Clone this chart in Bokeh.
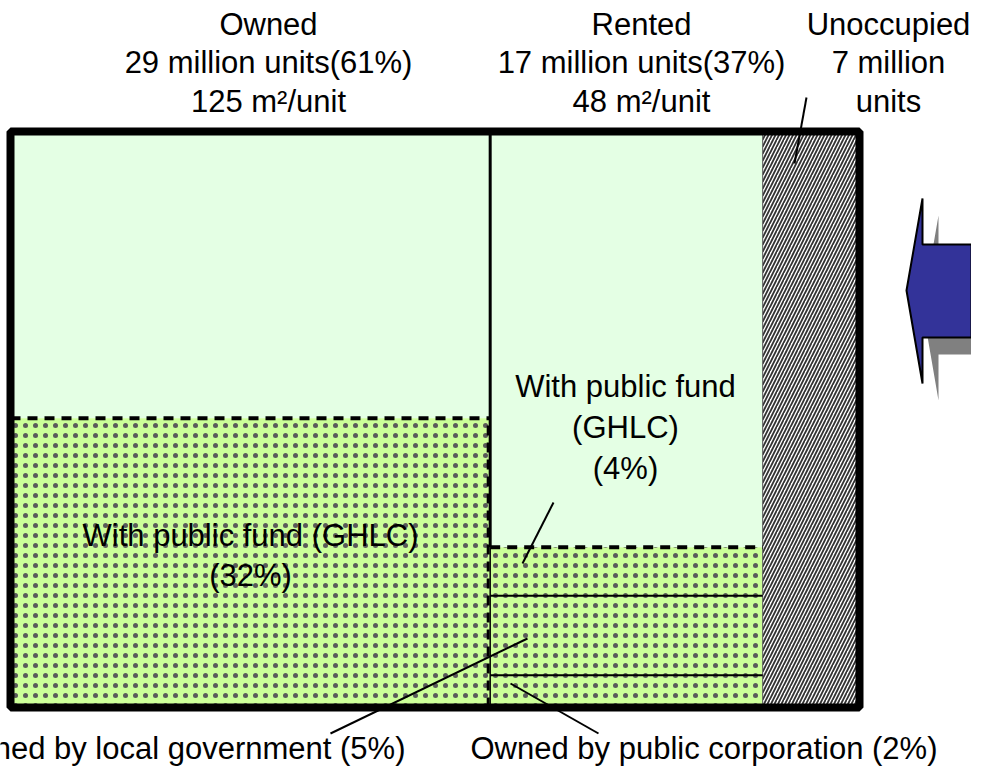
from bokeh.plotting import figure
from bokeh.models import Range1d
from bokeh.core.properties import value
from bokeh.embed import file_html
from bokeh.resources import INLINE

# ---------------- data ----------------
tenure = ["Owned", "Rented", "Unoccupied"]
units_million = [29, 17, 7]
unit_share_pct = [61, 37]
floor_area_m2 = [125, 48]
column_width_pct = [56.5, 32.1, 11.4]        # drawn column widths, % of frame width
owned_fund_label = "With public fund (GHLC)"
owned_fund_pct = 32
owned_fund_height = 50.2                      # % of column height
rented_parts = ["Owned by public corporation", "Owned by local government", "With public fund (GHLC)"]
rented_parts_pct = [2, 5, 4]
rented_parts_height = [5.6, 13.8, 8.4]        # % of column height, bottom to top

# ---------------- layout (canvas pixels) ----------------
W, H = 971, 768
FL, FR, FT, FB = 10, 859, 131, 707
SX = (FR - FL) / 100.0
SY = (FB - FT) / 100.0


def X(px):
    return (px - FL) / SX


def Y(py):
    return (FB - py) / SY


FONT = value("Liberation Sans")
LIGHT = "#E4FFE4"
DOTTED = "#CCFF99"

p = figure(width=W, height=H, x_range=Range1d(X(0), X(W)),
           y_range=Range1d(Y(H), Y(0)), output_backend="svg",
           toolbar_location=None, min_border=0,
           x_axis_location=None, y_axis_location=None)
p.grid.visible = False
p.outline_line_color = None
p.background_fill_color = "white"
p.border_fill_color = "white"

# column edges
edges = [0.0]
for w in column_width_pct:
    edges.append(edges[-1] + w)
rented_cum = [0.0]
for h in rented_parts_height:
    rented_cum.append(rented_cum[-1] + h)

# light (no public fund) areas
p.quad(left=[edges[0], edges[1]], right=[edges[1], edges[2]],
       bottom=[owned_fund_height, rented_cum[-1]], top=[100, 100],
       fill_color=LIGHT, line_color=None)
# dotted public areas
p.quad(left=[edges[0]] + [edges[1]] * 3,
       right=[edges[1]] + [edges[2]] * 3,
       bottom=[0] + rented_cum[:-1],
       top=[owned_fund_height] + rented_cum[1:],
       fill_color=DOTTED, line_color=None,
       hatch_pattern=".", hatch_scale=10, hatch_color="#5a5a5a", hatch_weight=0.3)
# unoccupied hatched
p.quad(left=[edges[2]], right=[edges[3]], bottom=[0], top=[100],
       fill_color="white", line_color="#555555", line_width=1,
       hatch_pattern="/", hatch_scale=7, hatch_color="#333333", hatch_weight=1.8)

# separators
p.line([edges[1], edges[1]], [rented_cum[-1], 100], line_color="black", line_width=3)
p.line([edges[1] - 2 / SX, edges[1] - 2 / SX], [0, owned_fund_height],
       line_color="black", line_width=3, line_dash="10 7")
p.line([edges[1], edges[1]], [0, rented_cum[-1]], line_color="black", line_width=1.5)
p.line([edges[0], edges[1]], [owned_fund_height] * 2, line_color="black",
       line_width=4, line_dash="10 7")
p.line([edges[1], edges[2]], [rented_cum[-1]] * 2, line_color="black",
       line_width=4, line_dash="10 7")
p.multi_line(xs=[[edges[1], edges[2]], [edges[1], edges[2]]],
             ys=[[rented_cum[1]] * 2, [rented_cum[2]] * 2],
             line_color="black", line_width=2)

# outer frame
p.quad(left=[0], right=[100], bottom=[0], top=[100], fill_color=None,
       line_color="black", line_width=8)

# arrow with shadow
arrow_px = [(906, 290), (922, 198), (922, 244), (971, 244), (971, 337),
            (922, 337), (922, 383)]
p.patch([X(a + 16) for a, b in arrow_px], [Y(b + 17) for a, b in arrow_px],
        fill_color="#808080", line_color=None)
p.patch([X(a) for a, b in arrow_px], [Y(b) for a, b in arrow_px],
        fill_color="#333399", line_color="black", line_width=2)

# leader lines
leaders = [((806, 97), (794, 163)),
           ((553, 502), (522, 563)),
           ((330, 733), (527, 638)),
           ((510, 683), (598, 733))]
p.multi_line(xs=[[X(a[0]), X(b[0])] for a, b in leaders],
             ys=[[Y(a[1]), Y(b[1])] for a, b in leaders],
             line_color="black", line_width=2)

# top labels
top_texts = [f"{tenure[i]}\n{units_million[i]} million units({unit_share_pct[i]}%)\n{floor_area_m2[i]} m²/unit"
             for i in range(2)]
top_texts.append(f"{tenure[2]}\n{units_million[2]} million\nunits")
p.text(x=[X(268), X(641), X(888)], y=[Y(62)] * 3, text=top_texts,
       text_font=FONT, text_font_size="31px", text_align="center",
       text_baseline="middle", text_line_height=1.1, text_color="black")

# inside labels
p.text(x=[X(250), X(625)], y=[Y(555), Y(427)],
       text=[f"{owned_fund_label}\n({owned_fund_pct}%)",
             f"With public fund\n(GHLC)\n({rented_parts_pct[2]}%)"],
       text_font=FONT, text_font_size="31px", text_align="center",
       text_baseline="middle", text_line_height=1.16, text_color="black")

# bottom labels
p.text(x=[X(405)], y=[Y(748)], text=[f"{rented_parts[1]} ({rented_parts_pct[1]}%)"],
       text_font=FONT, text_font_size="31px", text_align="right",
       text_baseline="middle", text_color="black")
p.text(x=[X(470)], y=[Y(748)], text=[f"{rented_parts[0]} ({rented_parts_pct[0]}%)"],
       text_font=FONT, text_font_size="31px", text_align="left",
       text_baseline="middle", text_color="black")

open("out.html", "w").write(file_html(p, INLINE))
